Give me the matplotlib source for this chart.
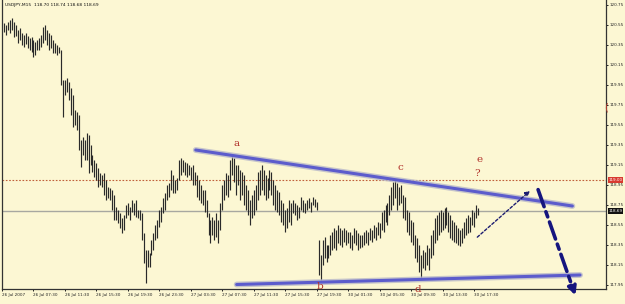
import matplotlib
matplotlib.use("Agg")
import matplotlib.pyplot as plt
import numpy as np

# ---------------- data (USDJPY M15 bars) ----------------
highs = [120.57,120.55,120.58,120.60,120.62,120.58,120.55,120.50,120.52,120.47,
         120.45,120.47,120.44,120.42,120.43,120.40,120.38,120.40,120.42,120.45,
         120.53,120.55,120.50,120.47,120.45,120.40,120.37,120.35,120.33,120.30,
         120.00,120.00,120.02,119.98,119.92,119.85,119.70,119.68,119.65,119.40,
         119.43,119.40,119.47,119.45,119.35,119.25,119.20,119.17,119.12,119.07,
         119.05,119.07,119.00,118.93,118.92,118.90,118.85,118.73,118.70,118.67,
         118.62,118.65,118.75,118.77,118.73,118.80,118.77,118.80,118.70,118.70,
         118.67,118.47,118.30,118.30,118.27,118.40,118.47,118.55,118.60,118.70,
         118.73,118.82,118.87,118.95,118.97,119.10,119.05,119.00,119.02,119.20,
         119.22,119.20,119.18,119.17,119.15,119.13,119.15,119.08,119.05,119.00,
         118.95,118.90,118.90,118.80,118.67,118.60,118.63,118.60,118.67,118.60,
         118.77,118.95,119.00,119.07,119.05,119.20,119.25,119.22,119.15,119.15,
         119.10,119.08,119.05,118.95,118.90,118.80,118.85,118.90,118.95,119.08,
         119.10,119.15,119.10,119.05,119.02,119.10,119.08,119.00,118.95,118.90,
         118.88,118.80,118.77,118.70,118.72,118.80,118.77,118.80,118.77,118.75,
         118.73,118.83,118.80,118.77,118.80,118.82,118.78,118.83,118.81,118.78,
         118.40,118.25,118.40,118.43,118.35,118.35,118.45,118.48,118.52,118.50,
         118.55,118.52,118.50,118.52,118.50,118.48,118.48,118.45,118.52,118.50,
         118.47,118.45,118.45,118.48,118.50,118.48,118.52,118.50,118.55,118.53,
         118.58,118.57,118.68,118.70,118.75,118.77,118.85,118.93,118.98,119.00,
         118.97,118.93,118.95,118.85,118.83,118.70,118.68,118.60,118.58,118.45,
         118.42,118.35,118.25,118.30,118.28,118.35,118.32,118.45,118.50,118.62,
         118.65,118.68,118.70,118.68,118.72,118.73,118.68,118.65,118.60,118.58,
         118.55,118.52,118.50,118.52,118.58,118.62,118.65,118.63,118.70,118.68,
         118.75,118.72]
lows = [120.48,120.45,120.50,120.47,120.50,120.43,120.44,120.37,120.40,120.35,
        120.33,120.36,120.32,120.30,120.28,120.23,120.25,120.30,120.30,120.33,
        120.37,120.40,120.35,120.30,120.32,120.27,120.27,120.25,120.27,119.95,
        119.63,119.85,119.88,119.80,119.65,119.53,119.55,119.50,119.30,119.13,
        119.25,119.20,119.20,119.07,119.15,119.08,119.03,119.00,118.93,118.95,
        118.93,118.85,118.80,118.82,118.80,118.70,118.60,118.60,118.57,118.52,
        118.47,118.50,118.62,118.65,118.60,118.68,118.65,118.63,118.62,118.60,
        118.40,118.17,117.97,118.13,118.13,118.25,118.30,118.40,118.42,118.53,
        118.58,118.67,118.70,118.80,118.83,118.90,118.87,118.87,118.90,119.00,
        119.05,119.08,119.05,119.03,119.05,119.00,118.95,118.95,118.83,118.80,
        118.77,118.75,118.68,118.63,118.45,118.37,118.45,118.40,118.43,118.37,
        118.50,118.70,118.80,118.85,118.83,118.90,119.05,118.98,118.85,118.95,
        118.80,118.85,118.75,118.70,118.65,118.55,118.62,118.65,118.70,118.80,
        118.85,118.90,118.85,118.80,118.82,118.90,118.85,118.75,118.70,118.68,
        118.65,118.58,118.55,118.48,118.52,118.58,118.55,118.67,118.65,118.60,
        118.62,118.70,118.68,118.67,118.70,118.72,118.68,118.75,118.73,118.70,
        118.05,118.00,118.15,118.22,118.18,118.22,118.25,118.30,118.32,118.30,
        118.37,118.35,118.33,118.38,118.35,118.37,118.32,118.30,118.37,118.35,
        118.30,118.32,118.33,118.35,118.37,118.35,118.40,118.38,118.42,118.40,
        118.45,118.42,118.50,118.48,118.58,118.55,118.65,118.70,118.75,118.82,
        118.70,118.75,118.77,118.62,118.60,118.48,118.45,118.38,118.35,118.22,
        118.18,118.08,118.02,118.12,118.10,118.15,118.10,118.22,118.25,118.37,
        118.40,118.45,118.48,118.50,118.52,118.55,118.48,118.42,118.40,118.38,
        118.37,118.35,118.34,118.37,118.42,118.45,118.47,118.48,118.55,118.53,
        118.62,118.65]

time_labels = ["26 Jul 2007", "26 Jul 07:30", "26 Jul 11:30", "26 Jul 15:30",
               "26 Jul 19:30", "26 Jul 23:30", "27 Jul 03:30", "27 Jul 07:30",
               "27 Jul 11:30", "27 Jul 15:30", "27 Jul 19:30", "30 Jul 01:30",
               "30 Jul 05:30", "30 Jul 09:30", "30 Jul 13:30", "30 Jul 17:30"]
price_ticks = [117.95, 118.15, 118.35, 118.55, 118.75, 118.95, 119.15, 119.35,
               119.55, 119.75, 119.95, 120.15, 120.35, 120.55, 120.75]
title = "USDJPY,M15  118.70 118.74 118.68 118.69"
bid_price = 118.69
alert_price = 119.00

# trendlines (bar index, price)
upper_line = [(97.5, 119.30), (289.0, 118.74)]
lower_line = [(118.3, 117.955), (292.9, 118.05)]
small_arrow = [(239.6, 118.41), (268.5, 118.91)]
big_arrow = [(271.1, 118.93), (291.0, 117.82)]
wave_labels = [("a", 118.3, 119.37), ("b", 160.9, 117.93), ("c", 201.5, 119.12),
               ("d", 210.6, 117.90), ("e", 241.6, 119.20), ("?", 240.6, 119.07)]

# ---------------- figure ----------------
BG = "#fcf7d3"
TXT = 3.0
fig = plt.figure(figsize=(6.25, 3.04), dpi=100, facecolor=BG)
ax = fig.add_axes([2/625, 1 - 289/304, 604/625, 289/304], facecolor=BG)
ax.set_xlim(-0.5, 306.1)
ax.set_ylim(117.91, 120.80)

n = len(highs)
idx = np.arange(n)
ax.vlines(idx, lows, highs, color="#2a2a2a", lw=0.85, zorder=3)

ax.axhline(bid_price, color="#a8a8a0", lw=1.0, zorder=2)
ax.axhline(alert_price, color="#c0603a", lw=0.8, ls=(0, (1.5, 1.5)), zorder=2)

def seg(pts, **kw):
    (x0, y0), (x1, y1) = pts
    ax.plot([x0, x1], [y0, y1], **kw)

for pts in (upper_line, lower_line):
    seg(pts, color="#b8b8c8", lw=4.2, solid_capstyle="round", zorder=4, alpha=0.8)
    seg(pts, color="#5c5ccc", lw=2.2, solid_capstyle="round", zorder=5)

(x0, y0), (x1, y1) = small_arrow
ax.annotate("", xy=(x1, y1), xytext=(x0, y0),
            arrowprops=dict(arrowstyle="-|>", color="#1c1c70", lw=1.0,
                            ls=(0, (2, 1.5)), mutation_scale=7), zorder=6)
(x0, y0), (x1, y1) = big_arrow
ax.annotate("", xy=(x1, y1), xytext=(x0, y0),
            arrowprops=dict(arrowstyle="-|>", color="#15157e", lw=2.6,
                            ls=(0, (5, 1.5, 1.5, 1.5)), mutation_scale=12),
            zorder=6, annotation_clip=False)

for t, x, y in wave_labels:
    ax.text(x, y, t, color="#b0302a", fontsize=7.5, family="DejaVu Serif",
            ha="center", va="center", zorder=7)

ax.text(0.5, 120.75, title, fontsize=3.2, color="#111111", ha="left",
        va="center", zorder=7)
ax.text(306.1, 119.72, "(", color="#c04030", fontsize=7, ha="center",
        va="center", zorder=7)

# axes styling
for s in ("left", "right", "bottom", "top"):
    ax.spines[s].set_color("#333333")
    ax.spines[s].set_linewidth(0.9)
ax.spines["top"].set_visible(False)

ax.yaxis.tick_right()
ax.set_yticks(price_ticks)
ax.set_yticklabels([f"{p:.2f}" for p in price_ticks])
ax.tick_params(axis="y", length=1.5, width=0.7, pad=1, labelsize=TXT,
               colors="#222222")

xt = [-1 + 16 * k for k in range(len(time_labels))]
ax.set_xticks(xt)
ax.set_xticklabels(time_labels, ha="left")
ax.tick_params(axis="x", length=1.5, width=0.7, pad=1.5, labelsize=TXT,
               colors="#222222")

# price boxes on the right axis
ax.text(1.004, alert_price, "119.00", transform=ax.get_yaxis_transform(),
        fontsize=TXT, color="white", ha="left", va="center", zorder=8,
        bbox=dict(boxstyle="square,pad=0.15", fc="#d83a30", ec="none"),
        clip_on=False)
ax.text(1.004, bid_price, "118.69", transform=ax.get_yaxis_transform(),
        fontsize=TXT, color="white", ha="left", va="center", zorder=8,
        bbox=dict(boxstyle="square,pad=0.15", fc="#111111", ec="none"),
        clip_on=False)

fig.savefig("out.png", dpi=100, facecolor=BG)
